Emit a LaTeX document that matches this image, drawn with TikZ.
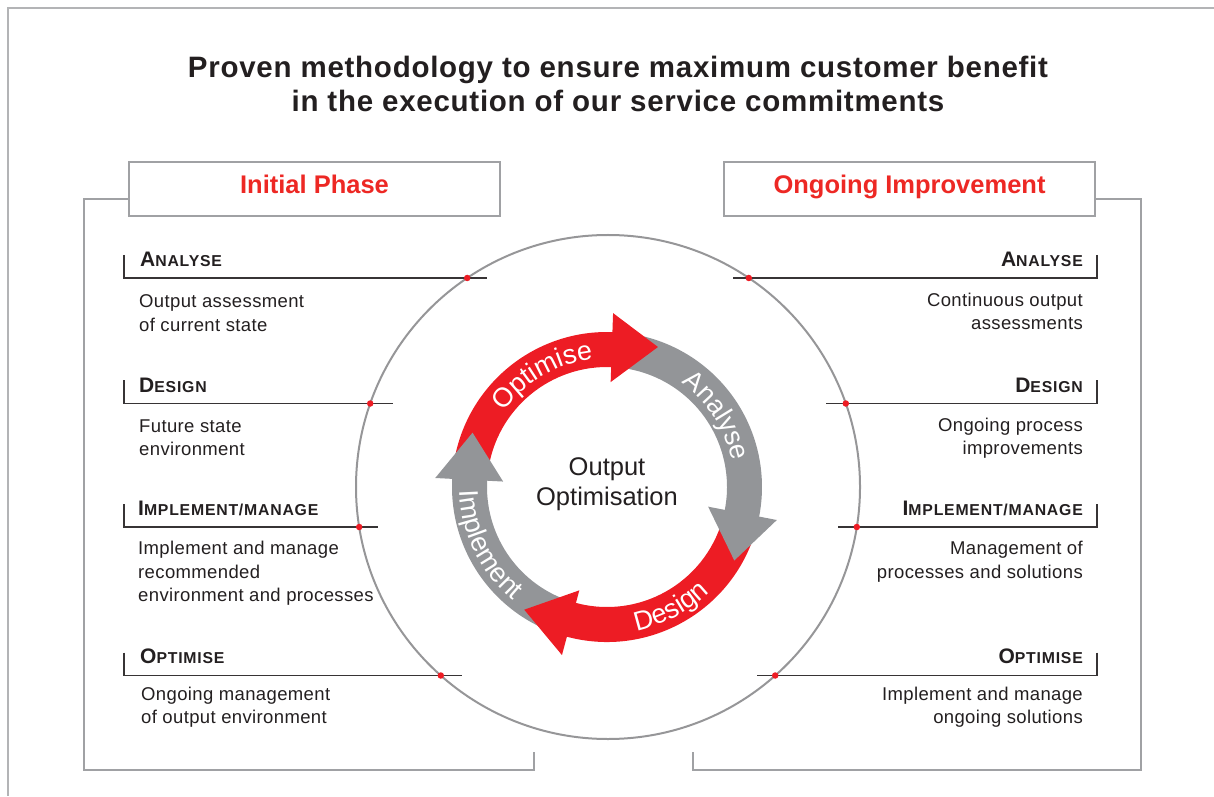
\documentclass[tikz,border=0pt]{standalone}
\usepackage{fontspec}
\setmainfont{Liberation Sans}
\newfontfamily\titlefont[LetterSpace=2.5]{Liberation Sans}
\newfontfamily\bodyfont[LetterSpace=2]{Liberation Sans}
\newfontfamily\hdfont[LetterSpace=5]{Liberation Sans}
\usetikzlibrary{decorations.text,calc}
\definecolor{ringred}{RGB}{237,28,36}
\definecolor{ringgray}{RGB}{147,149,152}
\definecolor{framegray}{RGB}{160,161,164}
\definecolor{circlegray}{RGB}{150,150,152}
\definecolor{ink}{RGB}{35,31,32}
\definecolor{headred}{RGB}{237,40,36}
\definecolor{ruledark}{RGB}{55,52,53}
\newcommand{\sch}[2]{{\hdfont\bfseries\fontsize{21}{21}\selectfont#1\fontsize{15.8}{15.8}\selectfont#2}}
\newcommand{\ringtxt}{\fontsize{27}{27}\selectfont}
\tikzset{
  frameline/.style={draw=framegray, line width=2.6pt},
  headbox/.style={draw=framegray, line width=2.4pt, minimum width=371pt, minimum height=54pt, inner sep=0pt},
  headtxt/.style={inner sep=0pt, text=headred, font=\bfseries\fontsize{25.5}{25.5}\selectfont},
  titletxt/.style={inner sep=0pt, text=ink, font=\titlefont\bfseries\fontsize{29.5}{29.5}\selectfont},
  rulestyle/.style={draw=ruledark, line width=1.2pt},
  reddot/.style={circle, fill=ringred, inner sep=0pt, minimum size=6.5pt},
  hdtxt/.style={inner sep=0pt, text=ink},
  bodytxt/.style={inner sep=0pt, text=ink, font=\bodyfont\fontsize{18.5}{18.5}\selectfont},
  centertxt/.style={inner sep=0pt, text=ink, font=\fontsize{25.5}{25.5}\selectfont},
  ringlabel/.style={decorate, decoration={text along path, text align=center, text color=white, text={|\ringtxt|#1}}},
}
\begin{document}
\begin{tikzpicture}[x=1pt,y=1pt]
\useasboundingbox (0,0) rectangle (1214,796);
% outer frame
\draw[draw=framegray!80, line width=2.8pt] (1214,788) -- (8,788) -- (8,0);
% title
\node[titletxt, anchor=base] (t1) at (618,718.3) {Proven methodology to ensure maximum customer benefit};
\node[titletxt, anchor=base] (t2) at (618,684.3) {in the execution of our service commitments};
% heading boxes
\node[headbox] (ip) at (314.5,607) {};
\node[headtxt, anchor=base] (ipt) at (314.5,602.7) {Initial Phase};
\node[headbox] (oi) at (909.5,607) {};
\node[headtxt, anchor=base] (oit) at (909.5,602.7) {Ongoing Improvement};
% brackets
\draw[frameline] ($(ip.west)+(0,-10)$) -- (84,597) -- (84,26) -- (534,26) -- (534,44);
\draw[frameline] ($(oi.east)+(0,-10)$) -- (1141,597) -- (1141,26) -- (693,26) -- (693,44);
% big circle
\draw[draw=circlegray, line width=2pt] (608,309) circle[radius=252];
% rules left
\draw[rulestyle] (124,541) -- (124,518) -- (487,518);
\draw[rulestyle] (124,415.5) -- (124,392.5) -- (393,392.5);
\draw[rulestyle] (124,292) -- (124,269) -- (378,269);
\draw[rulestyle] (124,143.5) -- (124,120.5) -- (462,120.5);
% rules right
\draw[rulestyle] (1097,541) -- (1097,518) -- (733,518);
\draw[rulestyle] (1097,415.5) -- (1097,392.5) -- (826,392.5);
\draw[rulestyle] (1097,292) -- (1097,269) -- (838,269);
\draw[rulestyle] (1097,143.5) -- (1097,120.5) -- (757,120.5);
% dots
\node[reddot] (dl1) at (467.2,518) {};
\node[reddot] (dl2) at (370.2,392.5) {};
\node[reddot] (dl3) at (359.2,269) {};
\node[reddot] (dl4) at (440.8,120.5) {};
\node[reddot] (dr1) at (748.8,518) {};
\node[reddot] (dr2) at (845.8,392.5) {};
\node[reddot] (dr3) at (856.8,269) {};
\node[reddot] (dr4) at (775.2,120.5) {};
% left headings
\node[hdtxt, anchor=base west] (hl1) at (140,529.5) {\sch{A}{NALYSE}};
\node[hdtxt, anchor=base west] (hl2) at (139,403.5) {\sch{D}{ESIGN}};
\node[hdtxt, anchor=base west] (hl3) at (138,280.5) {\sch{I}{MPLEMENT/MANAGE}};
\node[hdtxt, anchor=base west] (hl4) at (140,132.5) {\sch{O}{PTIMISE}};
% right headings
\node[hdtxt, anchor=base east] (hr1) at (1083,529.5) {\sch{A}{NALYSE}};
\node[hdtxt, anchor=base east] (hr2) at (1083,403.5) {\sch{D}{ESIGN}};
\node[hdtxt, anchor=base east] (hr3) at (1083,280.5) {\sch{I}{MPLEMENT/MANAGE}};
\node[hdtxt, anchor=base east] (hr4) at (1083,132.5) {\sch{O}{PTIMISE}};
% left bodies
\node[bodytxt, anchor=base west] (bl1a) at (139,488.5) {Output assessment};
\node[bodytxt, anchor=base west] (bl1b) at (139,464.5) {of current state};
\node[bodytxt, anchor=base west] (bl2a) at (139,363.5) {Future state};
\node[bodytxt, anchor=base west] (bl2b) at (139,340.5) {environment};
\node[bodytxt, anchor=base west] (bl3a) at (138,241.5) {Implement and manage};
\node[bodytxt, anchor=base west] (bl3b) at (138,217.5) {recommended};
\node[bodytxt, anchor=base west] (bl3c) at (138,194.5) {environment and processes};
\node[bodytxt, anchor=base west] (bl4a) at (141,95.5) {Ongoing management};
\node[bodytxt, anchor=base west] (bl4b) at (141,72.5) {of output environment};
% right bodies
\node[bodytxt, anchor=base east] (br1a) at (1083,489.5) {Continuous output};
\node[bodytxt, anchor=base east] (br1b) at (1083,466.5) {assessments};
\node[bodytxt, anchor=base east] (br2a) at (1083,364.5) {Ongoing process};
\node[bodytxt, anchor=base east] (br2b) at (1083,341.5) {improvements};
\node[bodytxt, anchor=base east] (br3a) at (1083,241.5) {Management of};
\node[bodytxt, anchor=base east] (br3b) at (1083,217.5) {processes and solutions};
\node[bodytxt, anchor=base east] (br4a) at (1083,95.5) {Implement and manage};
\node[bodytxt, anchor=base east] (br4b) at (1083,72.5) {ongoing solutions};
% center ring
\begin{scope}[shift={(607,309)}]
  % bodies
  \fill[ringred] (172:155) arc[start angle=172,end angle=87.5,radius=155] -- (87.5:120) arc[start angle=87.5,end angle=172,radius=120] -- cycle;
  \fill[ringgray] (83:155) arc[start angle=83,end angle=-11.5,radius=155] -- (-11.5:120) arc[start angle=-11.5,end angle=83,radius=120] -- cycle;
  \fill[ringred] (-16:155) arc[start angle=-16,end angle=-105.5,radius=155] -- (-105.5:120) arc[start angle=-105.5,end angle=-16,radius=120] -- cycle;
  \fill[ringgray] (250:155) arc[start angle=250,end angle=176.5,radius=155] -- (176.5:120) arc[start angle=176.5,end angle=250,radius=120] -- cycle;
  % heads
  \fill[ringred] (88:174) -- (70:149) -- (88:105) -- cycle;
  \fill[ringgray] (-11:173) -- (-30:147) -- (-11:103) -- cycle;
  \fill[ringred] (-105:174) -- (-124:148) -- (-105:107) -- cycle;
  \fill[ringgray] (177:172) -- (158:145) -- (177:104) -- cycle;
  % labels
  \path[ringlabel=Optimise] (160:128) arc[start angle=160,end angle=80,radius=128];
  \path[ringlabel=Analyse] (73:128) arc[start angle=73,end angle=-7,radius=128];
  \path[ringlabel=Design] (-102:147) arc[start angle=-102,end angle=-22,radius=147];
  \path[ringlabel=Implement] (166:147) arc[start angle=166,end angle=246,radius=147];
  \node[centertxt, anchor=base] (c1) at (0,12) {Output};
  \node[centertxt, anchor=base] (c2) at (0,-18) {Optimisation};
\end{scope}
\end{tikzpicture}
\end{document}
